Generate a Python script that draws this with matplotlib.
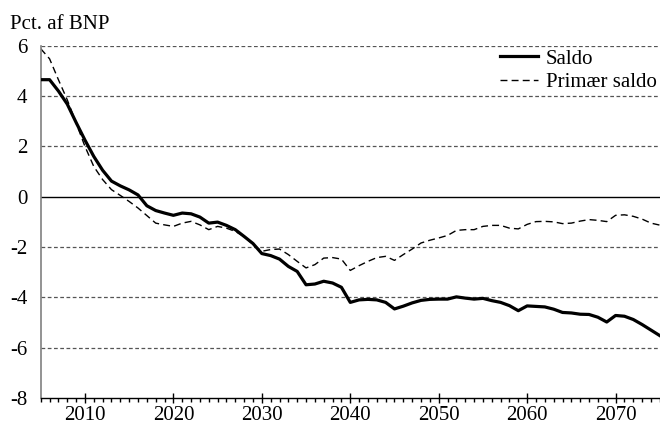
import numpy as np
import matplotlib
matplotlib.use("Agg")
import matplotlib.pyplot as plt
from matplotlib.ticker import MultipleLocator

plt.rcParams['font.family'] = ['Liberation Serif', 'DejaVu Serif']
plt.rcParams['axes.unicode_minus'] = False

years = list(range(2005, 2076))

# Saldo (pct. af BNP)
saldo = [4.65, 4.65, 4.2, 3.68, 2.95, 2.25, 1.6, 1.05, 0.62, 0.43, 0.27, 0.07,
         -0.36, -0.55, -0.65, -0.74, -0.65, -0.68, -0.81, -1.05, -1.01, -1.14,
         -1.31, -1.58, -1.86, -2.26, -2.34, -2.48, -2.77, -2.97, -3.5, -3.47,
         -3.36, -3.43, -3.6, -4.2, -4.1, -4.08, -4.1, -4.2, -4.46, -4.35,
         -4.22, -4.12, -4.08, -4.07, -4.07, -3.98, -4.03, -4.07, -4.04, -4.13,
         -4.2, -4.33, -4.53, -4.34, -4.36, -4.38, -4.47, -4.6, -4.62, -4.67,
         -4.68, -4.79, -4.98, -4.72, -4.75, -4.88, -5.08, -5.3, -5.52]

# Primær saldo
primaer = [5.88, 5.48, 4.65, 3.85, 2.93, 2.0, 1.2, 0.68, 0.28, 0.05, -0.19, -0.45,
           -0.75, -1.05, -1.12, -1.18, -1.05, -0.98, -1.12, -1.31, -1.18, -1.25,
           -1.38, -1.58, -1.9, -2.17, -2.1, -2.08, -2.3, -2.57, -2.83, -2.7,
           -2.44, -2.42, -2.48, -2.93, -2.74, -2.57, -2.42, -2.37, -2.53, -2.3,
           -2.08, -1.84, -1.73, -1.64, -1.54, -1.34, -1.31, -1.31, -1.18, -1.14,
           -1.14, -1.25, -1.28, -1.1, -0.99, -0.98, -1.0, -1.07, -1.05, -0.97,
           -0.91, -0.94, -0.99, -0.74, -0.72, -0.78, -0.89, -1.05, -1.13]

fig = plt.figure(figsize=(6.6, 4.26), dpi=100)
ax = fig.add_axes([0.0617, 0.0657, 0.938, 0.827])

for yv in [-6, -4, -2, 2, 4, 6]:
    ax.axhline(yv, color='#555555', lw=0.9, ls=(0, (3, 2)), zorder=1)
ax.axhline(0, color='black', lw=1.0, zorder=1)

ax.plot(years, saldo, color='black', lw=2.3, label='Saldo', zorder=3)
ax.plot(years, primaer, color='black', lw=1.0, ls=(0, (5, 3)), label='Primær saldo', zorder=2)

ax.set_xlim(2005, 2075)
ax.set_ylim(-8, 6)
ax.set_yticks(range(-8, 7, 2))
ax.set_xticks(range(2010, 2071, 10))
ax.xaxis.set_minor_locator(MultipleLocator(1))

for s in ['top', 'right']:
    ax.spines[s].set_visible(False)
ax.spines['left'].set_color('#808080')
ax.spines['left'].set_linewidth(1.2)
ax.spines['bottom'].set_color('black')
ax.spines['bottom'].set_linewidth(1.0)

ax.tick_params(axis='y', length=0, pad=9.5, labelsize=15)
ax.tick_params(axis='x', which='major', direction='inout', length=7, width=1, pad=2.5, labelsize=15)
ax.tick_params(axis='x', which='minor', direction='out', length=3, width=1)

ax.legend(loc='upper right', bbox_to_anchor=(1.012, 1.02), frameon=False, fontsize=15,
          handlelength=1.8, handletextpad=0.4, labelspacing=0.2, borderaxespad=0.1)

fig.text(0.015, 0.965, 'Pct. af BNP', fontsize=15, va='top', ha='left')

fig.savefig('out.png', dpi=100)
